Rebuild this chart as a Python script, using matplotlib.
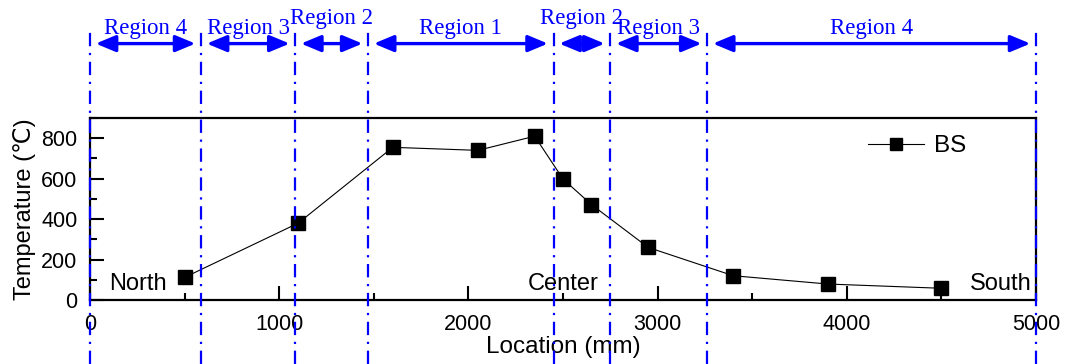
import matplotlib
matplotlib.use("Agg")
import matplotlib.pyplot as plt
from matplotlib.ticker import MultipleLocator

plt.rcParams['font.family'] = ['Liberation Sans', 'DejaVu Sans']

# Measured temperatures along the slab
location_mm = [500, 1100, 1600, 2050, 2350, 2500, 2650, 2950, 3400, 3900, 4500]
temperature_c = [112, 380, 755, 740, 810, 598, 472, 260, 120, 79, 58]
series_label = "BS"

# Region boundaries (mm) and the labels of the spans between them
boundaries_mm = [0, 587, 1085, 1470, 2450, 2750, 3262, 5000]
region_labels = ["Region 4", "Region 3", "Region 2", "Region 1",
                 "Region 2", "Region 3", "Region 4"]
label_raised = [False, False, True, False, True, False, False]

x_ticks = [0, 1000, 2000, 3000, 4000, 5000]
y_ticks = [0, 200, 400, 600, 800]

fig = plt.figure(figsize=(10.68, 3.64), dpi=100)
ax = fig.add_axes([0.0843, 0.1758, 0.8858, 0.5])

ax.plot(location_mm, temperature_c, color='black', lw=0.8, marker='s',
        markersize=9.6, mfc='black', mec='black', label=series_label)

ax.set_xlim(0, 5000)
ax.set_ylim(0, 900)
ax.set_xticks(x_ticks)
ax.set_yticks(y_ticks)
ax.xaxis.set_minor_locator(MultipleLocator(500))
ax.yaxis.set_minor_locator(MultipleLocator(100))
ax.tick_params(which='both', direction='in', top=False, right=False,
               labelsize=15.5, width=1.5)
ax.tick_params(axis='x', which='major', length=10, pad=10)
ax.tick_params(axis='y', which='major', length=10, pad=9)
ax.tick_params(which='minor', length=5)
for s in ax.spines.values():
    s.set_linewidth(1.6)

ax.set_xlabel("Location (mm)", fontsize=17.5, labelpad=1)
ax.set_ylabel("Temperature (℃)", fontsize=17, labelpad=4)

# Direction labels inside the axes
ax.text(254, 79, "North", ha='center', va='center', fontsize=17)
ax.text(2500, 79, "Center", ha='center', va='center', fontsize=17)
ax.text(4979, 79, "South", ha='right', va='center', fontsize=17)

# Dash-dot boundary lines running over the whole figure height
blue = '#0000ff'
for b in boundaries_mm:
    ax.plot([b, b], [-318, 1340], color=blue, lw=1.6,
            linestyle=(0, (6, 3, 1, 3)), clip_on=False, zorder=5)

# Double-headed arrows and region names above the axes
arrow_y = 1268
gap = 30
for i, name in enumerate(region_labels):
    x0, x1 = boundaries_mm[i], boundaries_mm[i + 1]
    ax.annotate("", xy=(x1 - gap, arrow_y), xytext=(x0 + gap, arrow_y),
                xycoords='data', textcoords='data', annotation_clip=False,
                arrowprops=dict(arrowstyle='<|-|>,head_length=1.2,head_width=0.5',
                                color=blue, lw=2.4, shrinkA=0, shrinkB=0))
    ty = 1345 if not label_raised[i] else 1392
    ax.text((x0 + x1) / 2, ty, name, ha='center', va='center', color=blue,
            fontsize=16.5, family=['Liberation Serif'], clip_on=False)

leg = ax.legend(loc='center left', bbox_to_anchor=(0.812, 0.845), frameon=False,
                fontsize=17.5, handlelength=2.3, handletextpad=0.4,
                borderaxespad=0, markerscale=0.85)

fig.savefig("out.png", dpi=100)
